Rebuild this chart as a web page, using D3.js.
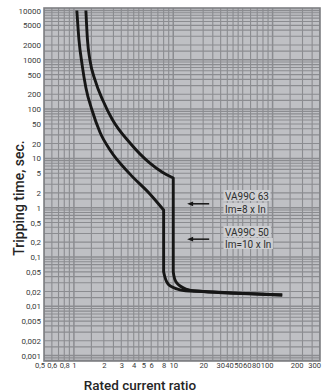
<!DOCTYPE html>
<html>
<head>
<meta charset="utf-8">
<script src="https://cdn.jsdelivr.net/npm/d3@7"></script>
<style>
  html, body { margin: 0; padding: 0; background: #ffffff; }
  svg { display: block; }
  text { font-family: Roboto, "Liberation Sans", Arial, sans-serif; }
</style>
</head>
<body>
<svg id="chart" width="329" height="392"></svg>
<script>
// Rated current ratio (I / In) tick values and their printed labels
const xTickValues = [0.5, 0.6, 0.8, 1, 2, 3, 4, 5, 6, 8, 10, 20, 30, 40, 50, 60, 80, 100, 200, 300];
const xTickLabels = ["0,5", "0,6", "0,8", "1", "2", "3", "4", "5", "6", "8", "10", "20", "30", "40", "50", "60", "80", "100", "200", "300"];

// Tripping time (s) tick values and their printed labels
const yTickValues = [10000, 5000, 2000, 1000, 500, 200, 100, 50, 20, 10, 5, 2, 1, 0.5, 0.2, 0.1, 0.05, 0.02, 0.01, 0.005, 0.002, 0.001];
const yTickLabels = ["10000", "5000", "2000", "1000", "500", "200", "100", "50", "20", "10", "5", "2", "1", "0,5", "0,2", "0,1", "0,05", "0,02", "0,01", "0,005", "0,002", "0,001"];

// Grid subdivisions inside each decade
const xGridSteps = [1, 1.5, 2, 2.5, 3, 3.5, 4, 4.5, 5, 6, 7, 8, 9];
const yGridSteps = [1, 1.5, 2, 3, 4, 5, 6, 7, 8, 9];

// Tripping curve, Im = 8 x In: thermal (inverse-time) part
const curve8ThermalRatio = [1.07, 1.125, 1.21, 1.32, 1.52, 1.83, 2.31, 3.67, 5.82, 8];
const curve8ThermalTime  = [10000, 2500, 790, 270, 96, 34, 14.8, 4.8, 1.9, 0.9];
// magnetic (instantaneous) part
const curve8MagneticRatio = [8, 8.9, 11.7, 20, 125];
const curve8MagneticTime  = [0.05, 0.028, 0.0215, 0.02, 0.017];

// Tripping curve, Im = 10 x In: thermal part
const curve10ThermalRatio = [1.32, 1.37, 1.45, 1.63, 1.97, 2.42, 3.67, 5.82, 7.7, 10];
const curve10ThermalTime  = [10000, 2500, 990, 390, 146, 63, 20.5, 8, 5.3, 4];
// magnetic part
const curve10MagneticRatio = [10, 10.7, 13.4, 20, 125];
const curve10MagneticTime  = [0.05, 0.031, 0.0224, 0.02, 0.017];

// Annotation texts
const noteLines = ["VA99C 63", "Im=8 x In", "VA99C 50", "Im=10 x In"];
// Times (s) the two annotation arrows point at
const arrowTimes = [1.2, 0.23];

const svg = d3.select("#chart");

const plot = { left: 44, right: 320, top: 8, bottom: 361 };

const x = d3.scaleLog().domain([0.5, 300]).range([44, 320]);
const y = d3.scaleLog().domain([0.001, 10000]).range([355.6, 10.5]);

// plot background
svg.append("rect")
  .attr("x", plot.left).attr("y", plot.top)
  .attr("width", plot.right - plot.left).attr("height", plot.bottom - plot.top)
  .attr("fill", "#bfc0c4");

svg.append("clipPath").attr("id", "plotClip")
  .append("rect")
  .attr("x", plot.left).attr("y", plot.top)
  .attr("width", plot.right - plot.left).attr("height", plot.bottom - plot.top);

const grid = svg.append("g").attr("clip-path", "url(#plotClip)");

// vertical grid lines
const xGrid = [];
[0.1, 1, 10, 100].forEach(d => xGridSteps.forEach(s => {
  const v = +(d * s).toPrecision(6);
  if (v >= 0.5 && v <= 300) xGrid.push(v);
}));
grid.selectAll("line.xg").data(xGrid).join("line")
  .attr("class", "xg")
  .attr("x1", d => x(d)).attr("x2", d => x(d))
  .attr("y1", plot.top).attr("y2", plot.bottom)
  .attr("stroke", "#8b8c90")
  .attr("stroke-width", d => (Math.abs(Math.log10(d) % 1) < 1e-9 ? 1.5 : 1.1));

// horizontal grid lines
const yGrid = [];
[0.0001, 0.001, 0.01, 0.1, 1, 10, 100, 1000, 10000].forEach(d => yGridSteps.forEach(s => {
  const v = +(d * s).toPrecision(6);
  if (v >= 0.0005 && v <= 10000) yGrid.push(v);
}));
grid.selectAll("line.yg").data(yGrid).join("line")
  .attr("class", "yg")
  .attr("x1", plot.left).attr("x2", plot.right)
  .attr("y1", d => y(d)).attr("y2", d => y(d))
  .attr("stroke", "#8b8c90")
  .attr("stroke-width", d => (Math.abs(Math.log10(d) % 1) < 1e-9 ? 1.5 : 1.1));

// plot frame
svg.append("rect")
  .attr("x", plot.left).attr("y", plot.top)
  .attr("width", plot.right - plot.left).attr("height", plot.bottom - plot.top)
  .attr("fill", "none").attr("stroke", "#7e7f83").attr("stroke-width", 1.6);

// tripping curves
const smoothGen = d3.line()
  .x(d => x(d[0])).y(d => y(d[1]))
  .curve(d3.curveMonotoneX);
const bendGen = d3.line()
  .x(d => x(d[0])).y(d => y(d[1]))
  .curve(d3.curveCatmullRom.alpha(0.5));

function curvePath(tr, tt, mr, mt) {
  const thermal = tr.map((r, i) => [r, tt[i]]);
  const magnetic = mr.map((r, i) => [r, mt[i]]);
  // thermal branch, then straight instantaneous drop, then the bend into the tail
  return smoothGen(thermal) + bendGen(magnetic).replace(/^M/, "L");
}

const curves = svg.append("g").attr("clip-path", "url(#plotClip)");
[[curve8ThermalRatio, curve8ThermalTime, curve8MagneticRatio, curve8MagneticTime],
 [curve10ThermalRatio, curve10ThermalTime, curve10MagneticRatio, curve10MagneticTime]]
  .forEach(c => {
    curves.append("path")
      .attr("d", curvePath(...c))
      .attr("fill", "none").attr("stroke", "#161616").attr("stroke-width", 2.9)
      .attr("stroke-linejoin", "round").attr("stroke-linecap", "butt");
  });

// arrows
const arrows = svg.append("g");
arrowTimes.forEach(t => {
  const yy = y(t);
  const x0 = x(23), x1 = x(13.8);
  arrows.append("line")
    .attr("x1", x0).attr("x2", x1 + 4).attr("y1", yy).attr("y2", yy)
    .attr("stroke", "#161616").attr("stroke-width", 1.5);
  arrows.append("path")
    .attr("d", `M${x1},${yy}L${x1 + 6},${yy - 2.4}L${x1 + 6},${yy + 2.4}Z`)
    .attr("fill", "#161616");
});

// annotation labels with light boxes
const notes = svg.append("g");
const noteBaselines = [199.5, 212.5, 235.5, 247.5];
noteLines.forEach((s, i) => {
  const t = notes.append("text")
    .attr("x", 225).attr("y", noteBaselines[i])
    .attr("font-size", 10).attr("fill", "#2e2e2e")
    .text(s);
  const bb = t.node().getBBox();
  notes.insert("rect", "text")
    .attr("x", bb.x - 1.5).attr("y", noteBaselines[i] - 9.5)
    .attr("width", bb.width + 3).attr("height", 11)
    .attr("fill", "#cdced1");
});

// y axis labels
const yAxis = d3.axisLeft(y)
  .tickValues(yTickValues)
  .tickFormat((d, i) => yTickLabels[i])
  .tickSize(0).tickPadding(3);
const gy = svg.append("g").attr("transform", `translate(${plot.left},0)`).call(yAxis);
gy.select(".domain").remove();
gy.selectAll("text").attr("font-size", 8).attr("fill", "#3a3a3a")
  .attr("font-family", "Roboto, Arial, sans-serif");

// x axis labels
const xAxis = d3.axisBottom(x)
  .tickValues(xTickValues)
  .tickFormat((d, i) => xTickLabels[i])
  .tickSize(0).tickPadding(0);
const gx = svg.append("g").attr("transform", `translate(0,363)`).call(xAxis);
gx.select(".domain").remove();
gx.selectAll("text").attr("font-size", 7.6).attr("fill", "#3a3a3a")
  .attr("font-family", "Roboto, Arial, sans-serif");
// crowded labels: first sits left of its line, upper decades end at their line
gx.selectAll(".tick text")
  .attr("text-anchor", (d, i) => (i === 0 || d >= 40 ? "end" : "middle"))
  .attr("dx", (d, i) => (i === 0 ? 0.5 : d >= 40 ? 0.5 : 0));
// push overlapping labels leftwards, working from the right end
(function resolve() {
  const nodes = gx.selectAll(".tick text").nodes();
  let limit = Infinity;
  for (let i = nodes.length - 1; i >= 0; i--) {
    const txt = d3.select(nodes[i]);
    const r = nodes[i].getBoundingClientRect();
    if (r.right > limit - 0.3) {
      const shift = r.right - (limit - 0.3);
      txt.attr("dx", (+txt.attr("dx") || 0) - shift);
    }
    limit = nodes[i].getBoundingClientRect().left;
  }
})();

// axis titles
svg.append("text")
  .attr("x", 140).attr("y", 389.5)
  .attr("text-anchor", "middle")
  .attr("font-size", 13.5).attr("font-weight", 500).attr("fill", "#262626")
  .text("Rated current ratio");

svg.append("text")
  .attr("transform", "translate(24,198) rotate(-90)")
  .attr("text-anchor", "middle")
  .attr("font-size", 14).attr("font-weight", 500).attr("fill", "#262626")
  .text("Tripping time, sec.");
</script>
</body>
</html>
